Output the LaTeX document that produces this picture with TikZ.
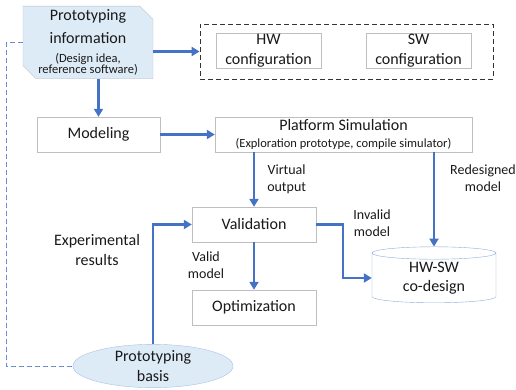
\documentclass[tikz,border=0pt]{standalone}
\usepackage{fontspec}
\setmainfont{Carlito}
\usepackage{tikz}
\usetikzlibrary{shapes.misc, shapes.geometric, shadows, arrows.meta}

\definecolor{flowblue}{HTML}{4472C4}
\definecolor{paleblue}{HTML}{DDEBF7}
\definecolor{edgegray}{HTML}{BFBFBF}

\begin{document}
\begin{tikzpicture}[x=1pt, y=-1pt,
        every node/.style={align=center, inner sep=0pt, text=black!90},
        box/.style={draw=edgegray, fill=white, drop shadow={opacity=0.25, shadow xshift=1pt, shadow yshift=-1pt},
            font=\fontsize{16}{19.5}\selectfont, minimum height=35pt},
        lbl/.style={font=\fontsize{14}{17}\selectfont},
        flow/.style={flowblue, line width=2.5pt, -{Triangle[length=8pt, width=9pt]}},
        back/.style={flowblue!80, line width=1pt, dash pattern=on 5pt off 3pt}]
        \useasboundingbox (0,0) rectangle (516,390);

        \def\fmain{\fontsize{16}{19.5}\selectfont}
        \def\fsub{\fontsize{12.5}{15}\selectfont}

        % top row
        \node[chamfered rectangle, chamfered rectangle corners={north east, south west},
            chamfered rectangle xsep=10pt, draw=edgegray, fill=paleblue, font=\fmain,
            minimum width=130pt, minimum height=69pt] (info) at (88,42.5)
            {Prototyping\\[4pt]information\\[-1pt] {\fsub (Design idea,}\\[-8pt] {\fsub reference software)}};
        \node[draw=black!80, line width=0.8pt, dash pattern=on 5pt off 3pt,
            minimum width=293pt, minimum height=55pt] (cfg) at (346.5,51.5) {};
        \node[box, minimum width=105pt] (hw) at (268.5,50.5) {HW\\configuration};
        \node[box, minimum width=105pt] (sw) at (418.5,50.5) {SW\\configuration};

        % middle row
        \node[box, minimum width=123pt] (model) at (98.5,134.5) {Modeling};
        \node[box, minimum width=257pt] (sim) at (343.5,134.5)
            {Platform Simulation\\[-2pt] \fsub (Exploration prototype, compile simulator)};

        \node[box, minimum width=124pt] (valid) at (254,224.5) {Validation};
        \node[box, minimum width=124pt] (opt) at (254,307.5) {Optimization};

        \node[cylinder, shape border rotate=90, aspect=0.2, draw=flowblue!60, fill=white,
            minimum width=124pt, minimum height=56pt, font=\fmain] (codesign) at (434,278) {HW-SW\\co-design};
        \node[ellipse, draw=flowblue!45, fill=paleblue, minimum width=160pt, minimum height=40pt,
            font=\fmain] (basis) at (153,366) {Prototyping\\basis};

        \draw[flow] (info.east |- cfg.west) -- (cfg.west);
        \draw[flow] (model.north |- info.south) -- (model.north);
        \draw[flow] (model.east) -- (sim.west);
        \draw[flow] (valid.north |- sim.south) -- (valid.north)
            node[lbl, midway, right=12pt] {Virtual\\output};
        \draw[flow] (codesign.north |- sim.south) -- (codesign.north);
        \draw[flow] (valid.south) -- (opt.north);
        \draw[flow] (valid.east) -- ++(27,0) |- (codesign.west);
        \draw[flow] (basis.north) |- (valid.west);
        \draw[back] (info.west) -- ++(-16,0) |- (basis.west);

        \node[lbl] (redes) at (483,178) {Redesigned\\model};
        \node[lbl] (inval) at (372,223) {Invalid\\model};
        \node[lbl] (vmodel) at (206,265) {Valid\\model};
        \node[lbl, font=\fmain] (expres) at (97,250) {Experimental\\results};

    \end{tikzpicture}
\end{document}
